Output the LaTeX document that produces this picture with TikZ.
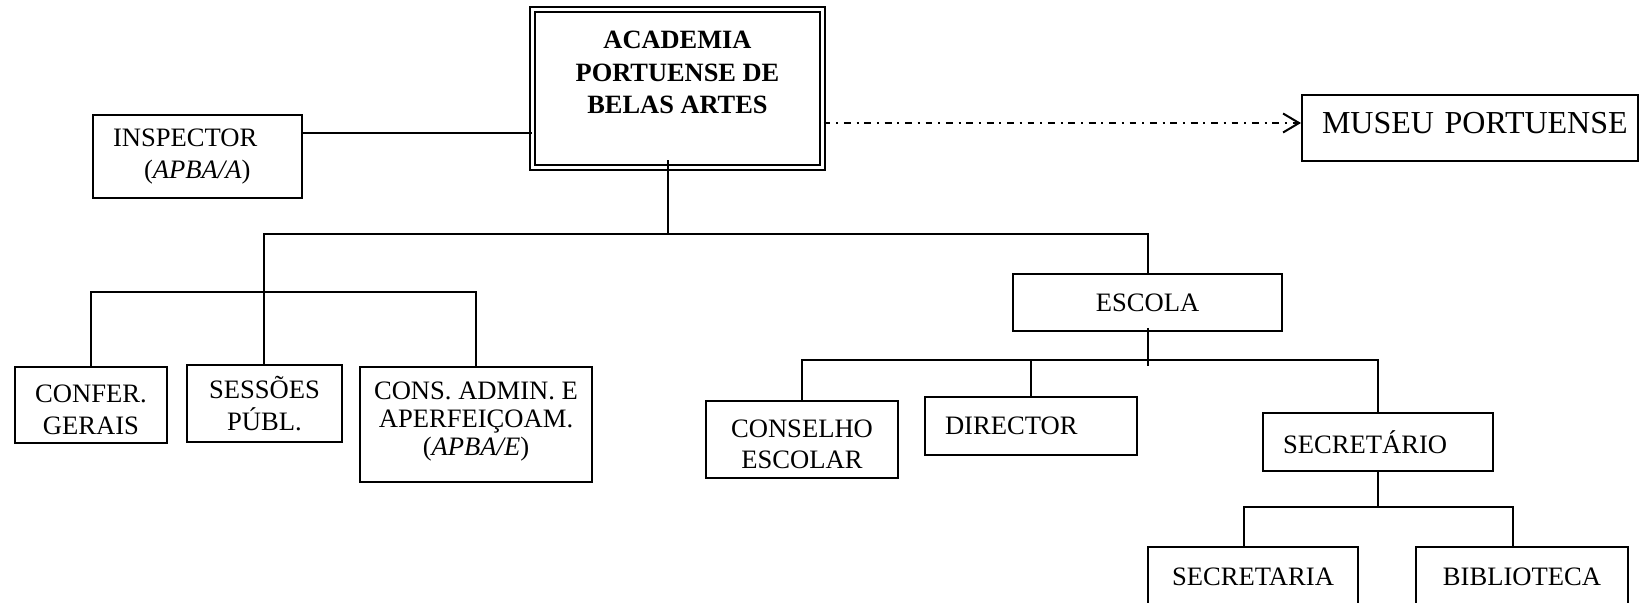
\documentclass[tikz,border=0pt]{standalone}
\usepackage{fontspec}
\setmainfont{Liberation Serif}
\usetikzlibrary{arrows.meta}

\newcommand{\padtop}{\rule{0pt}{13.5pt}}
\newcommand{\paddepth}{\rule[-5.7pt]{0pt}{5.7pt}}

\begin{document}
\begin{tikzpicture}[x=0.5pt,y=-0.5pt,
		orgbox/.style={draw, line width=1pt, inner sep=0pt, align=center,
			font=\fontsize{13.3}{15.8}\selectfont},
		leftbox/.style={orgbox, align=left, inner xsep=10pt},
		mainbox/.style={draw, double, line width=1pt, double distance=1.5pt,
			inner sep=0pt, minimum width=145pt, minimum height=79pt},
		link/.style={line width=1pt},
		museulink/.style={line width=1pt,
			dash pattern=on 3.4pt off 2.9pt on 1pt off 2.9pt,
			-{Straight Barb[length=8pt,width=9.5pt]}}]
	\useasboundingbox (0,0) rectangle (1641,603);
	
	\node[mainbox] (academia) at (677.5,88.5) {\parbox[c][79pt][t]{145pt}{\centering\bfseries
			\fontsize{13.2}{16.1}\selectfont\vspace*{11pt}ACADEMIA\\PORTUENSE DE\\BELAS ARTES}};
	\node[leftbox, text width=84.5pt, minimum height=41.5pt] (inspector) at (197.5,156.5)
		{INSPECTOR\\\hspace*{15.5pt}(\textit{APBA/A})};
	\node[leftbox, text width=148pt, minimum height=33pt, text depth=5.5pt,
		font=\fontsize{16}{19}\selectfont] (museu) at (1470,128) {\mbox{MUSEU PORTUENSE}};
	
	\node[orgbox, minimum width=76pt, minimum height=38pt] (confer) at (91,405) {\padtop CONFER.\\GERAIS};
	\node[orgbox, minimum width=77.5pt, minimum height=38.5pt] (sessoes) at (264.5,403.5) {SESSÕES\\PÚBL.};
	\node[orgbox, minimum width=116pt, minimum height=57.5pt, font=\fontsize{13.3}{14}\selectfont] (cons)
		at (476,424.5) {CONS. ADMIN. E\\APERFEIÇOAM.\\(\textit{APBA/E})\paddepth};
	
	\node[orgbox, minimum width=134.5pt, minimum height=28.5pt] (escola) at (1147.5,302.5) {ESCOLA};
	\node[orgbox, minimum width=96pt, minimum height=38.5pt] (conselho) at (802,439.5) {\padtop CONSELHO\\ESCOLAR};
	\node[leftbox, text width=86pt, minimum height=29pt] (director) at (1031,426) {DIRECTOR};
	\node[leftbox, text width=95pt, minimum height=29pt] (secretario) at (1378,442) {SECRETÁRIO};
	\node[orgbox, minimum width=105pt, minimum height=30pt] (secretaria) at (1253,577) {SECRETARIA};
	\node[orgbox, minimum width=106pt, minimum height=30pt] (biblioteca) at (1522,577) {BIBLIOTECA};
	
	\coordinate (inspin) at ([yshift=11.75pt]inspector.east);
	\coordinate (museuin) at ([yshift=2.5pt]museu.west);
	\coordinate (topbus) at (668,234);
	\coordinate (busL) at (264,234);
	\coordinate (leftbus) at (264,292);
	\coordinate (escstub) at (1147.5,366.5);
	\coordinate (escbus) at (1147.5,360);
	\coordinate (secbus) at (1378,507);
	
	\draw[link] (inspin) -- (inspin -| academia.west);
	\draw[museulink] (museuin -| academia.east) -- (museuin);
	
	\draw[link] (academia.south -| topbus) ++(0,-8) -- (topbus);
	\draw[link] (sessoes.north -| busL) -- (busL) -| (escola.north);
	\draw[link] (confer.north) |- (leftbus) -| (cons.north);
	
	\draw[link] (escola.south) ++(0,-4) -- (escstub);
	\draw[link] (conselho.north) |- (escbus) -| (secretario.north);
	\draw[link] (director.north) -- (director.north |- escbus);
	
	\draw[link] (secretario.south) -- (secbus);
	\draw[link] ([xshift=-4.5pt]secretaria.north) |- (secbus) -| ([xshift=-4.5pt]biblioteca.north);
\end{tikzpicture}
\end{document}
